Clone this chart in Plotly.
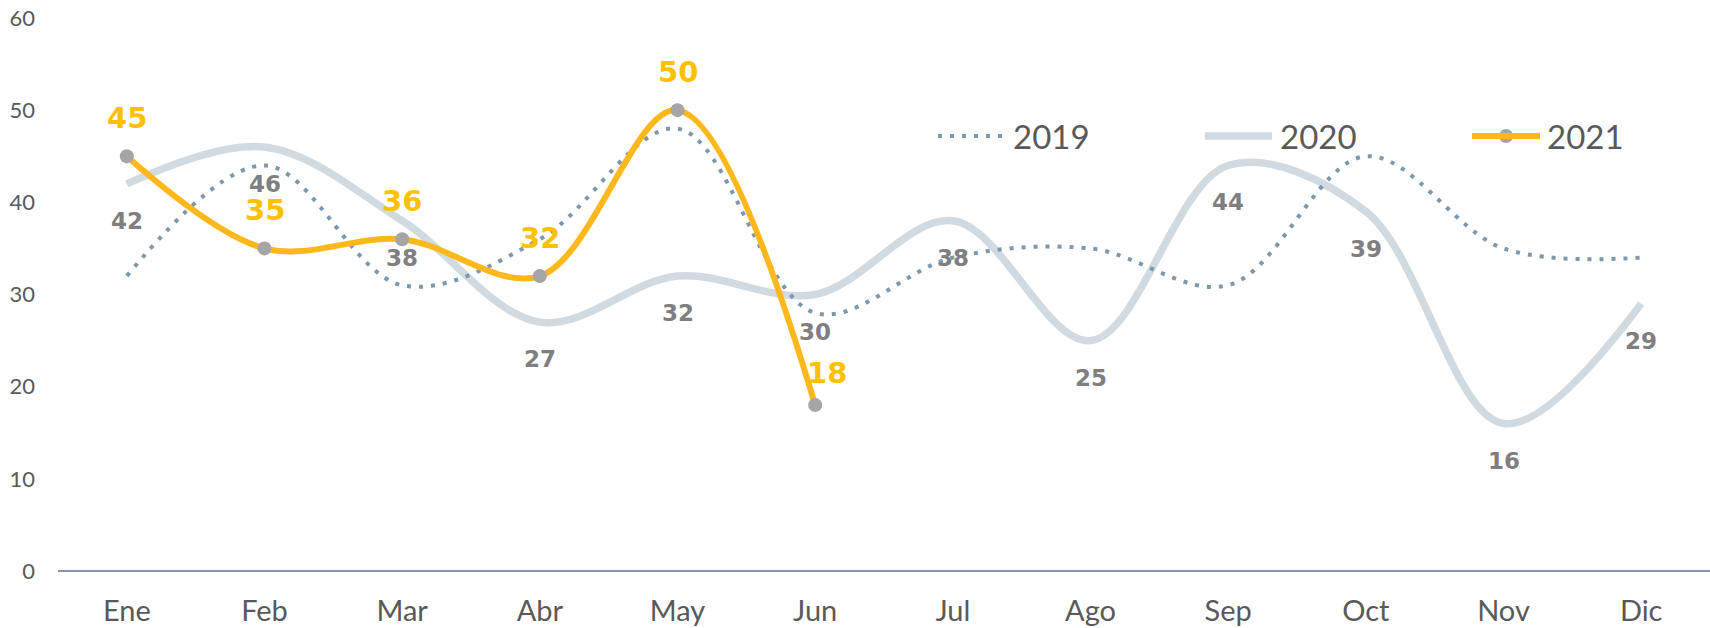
import plotly.graph_objects as go

months = ["Ene", "Feb", "Mar", "Abr", "May", "Jun", "Jul", "Ago", "Sep", "Oct", "Nov", "Dic"]
v2019 = [32, 44, 31, 36, 48, 28, 34, 35, 31, 45, 35, 34]
v2020 = [42, 46, 38, 27, 32, 30, 38, 25, 44, 39, 16, 29]
v2021 = [45, 35, 36, 32, 50, 18]
y_ticks = [0, 10, 20, 30, 40, 50, 60]

C2019 = "#7D97AB"
C2020 = "#D1DAE1"
C2021 = "#FFB81C"
CMARK = "#A5A5A5"
CLAB_G = "#7F7F7F"
CLAB_Y = "#FFC000"
CTXT = "#595959"

fig = go.Figure()
fig.add_trace(go.Scatter(x=months, y=v2020, mode="lines", name="2020",
                         line=dict(color=C2020, width=7.5, shape="spline", smoothing=1)))
fig.add_trace(go.Scatter(x=months, y=v2019, mode="lines", name="2019",
                         line=dict(color=C2019, width=4, shape="spline", smoothing=1, dash="4px,8px")))
fig.add_trace(go.Scatter(x=months[:len(v2021)], y=v2021, mode="lines+markers", name="2021",
                         line=dict(color=C2021, width=6, shape="spline", smoothing=1),
                         marker=dict(color=CMARK, size=14)))

annotations = []
for m, v in zip(months, v2020):
    annotations.append(dict(x=m, y=v, xref="x", yref="y", text=str(v), showarrow=False,
                            yshift=-37, font=dict(family="DejaVu Sans", size=23, color=CLAB_G, weight="bold")))
for i, (m, v) in enumerate(zip(months, v2021)):
    last = i == len(v2021) - 1
    annotations.append(dict(x=m, y=v, xref="x", yref="y", text=str(v), showarrow=False,
                            yshift=32 if last else 38, xshift=12 if last else 0,
                            font=dict(family="DejaVu Sans", size=29, color=CLAB_Y, weight="bold")))

# custom legend
PL, PW = 58, 1652
PB, PH = 571, 553
def px(xp):
    return (xp - PL) / PW
ly = (PB - 136) / PH
shapes = [
    dict(type="line", xref="paper", yref="paper", x0=px(938), x1=px(1002), y0=ly, y1=ly,
         line=dict(color=C2019, width=4, dash="4px,8px")),
    dict(type="line", xref="paper", yref="paper", x0=px(1205), x1=px(1272), y0=ly, y1=ly,
         line=dict(color=C2020, width=7.5)),
    dict(type="line", xref="paper", yref="paper", x0=px(1472), x1=px(1540), y0=ly, y1=ly,
         line=dict(color=C2021, width=6)),
]
legend_items = [("2019", 1011), ("2020", 1278), ("2021", 1545)]
for t, xp in legend_items:
    annotations.append(dict(x=px(xp), y=ly, xref="paper", yref="paper", text=t, showarrow=False,
                            xanchor="left", yanchor="middle",
                            font=dict(family="Lato", size=33, color=CTXT)))
fig.add_trace(go.Scatter(x=[px(1506)], y=[ly], xaxis="x2", yaxis="y2", mode="markers",
                         marker=dict(color=CMARK, size=14), showlegend=False, hoverinfo="skip"))

fig.update_layout(
    width=1710, height=628,
    margin=dict(l=58, r=0, t=18, b=57),
    paper_bgcolor="white", plot_bgcolor="white",
    showlegend=False,
    annotations=annotations, shapes=shapes,
    xaxis=dict(type="category", range=[-0.5, 11.5], showgrid=False, zeroline=False,
               showline=False, ticks="", tickfont=dict(family="Lato", size=29, color=CTXT),
               ticklabelstandoff=20),
    yaxis=dict(range=[0, 60], tickvals=y_ticks, showgrid=False, zeroline=True,
               zerolinecolor="#8497B0", zerolinewidth=2, showline=False, ticks="",
               tickfont=dict(family="Lato", size=22, color=CTXT), ticklabelstandoff=22),
    xaxis2=dict(range=[0, 1], overlaying="x", visible=False, domain=[0, 1]),
    yaxis2=dict(range=[0, 1], overlaying="y", visible=False),
)
fig.write_html("out.html", config={"displayModeBar": False},
               post_script="document.body.style.margin='0';document.body.style.overflow='hidden';")
